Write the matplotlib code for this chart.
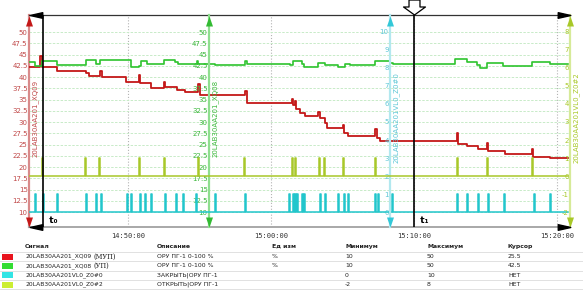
import matplotlib
matplotlib.use("Agg")
import matplotlib.pyplot as plt
from matplotlib.lines import Line2D
from matplotlib.patches import Rectangle
from matplotlib.path import Path

plt.rcParams['font.family'] = 'DejaVu Sans'
plt.rcParams['axes.unicode_minus'] = False

# time axis: minutes after 14:50:00
x_min, x_max = -6.92, 30.91
time_ticks = [0, 10, 20, 30]

# 20LAB30AA201_XQ09 (red, scale 10..50)
red_t = [-6.92, -6.12, -6.01, -4.94, -2.96, -2.73, -1.96, -1.85, -0.16, 0.77, 0.87, 1.59,
         2.52, 2.62, 3.41, 3.99, 4.92, 5.02, 8.18, 8.29, 11.45, 11.52, 11.68, 11.78, 12.03,
         12.38, 13.31, 13.43, 13.78, 13.92, 15.06, 15.14, 15.41, 17.27, 17.38, 17.62, 22.99,
         23.08, 23.69, 24.50, 25.08, 25.17, 26.36, 28.23, 28.32, 29.51, 30.77]
red_v = [42.3, 44.6, 42.2, 41.4, 40.8, 40.2, 41.3, 40.1, 39.0, 40.4, 38.6, 37.6,
         39.0, 37.7, 37.1, 36.7, 38.4, 36.0, 36.9, 34.3, 35.2, 33.8, 34.6, 32.8, 32.0,
         31.3, 32.3, 30.8, 29.7, 28.6, 29.4, 27.5, 26.8, 28.5, 26.4, 25.8, 27.6,
         25.1, 24.7, 24.1, 25.4, 23.6, 23.0, 24.1, 22.3, 21.9, 21.9]

# 20LAB30AA201_XQ08 (green, scale 10..50)
green_t = [-6.92, -6.50, -6.01, -4.97, -2.94, -2.26, -1.98, 0.19, 0.77, 0.91, 1.35, 2.52,
           3.29, 3.52, 4.83, 4.93, 6.08, 8.18, 8.29, 11.33, 11.56, 12.15, 12.31, 13.31,
           13.78, 14.71, 15.17, 15.52, 17.27, 18.32, 18.55, 22.87, 23.69, 24.39, 24.62,
           25.08, 26.25, 28.23, 29.51, 30.77]
green_v = [43.3, 42.5, 43.5, 42.6, 43.8, 43.0, 43.8, 42.2, 42.5, 43.6, 42.8, 43.7,
           43.4, 42.9, 43.6, 43.0, 42.7, 43.6, 43.0, 42.6, 43.5, 43.0, 42.2, 43.1,
           42.7, 42.2, 43.0, 42.7, 43.6, 43.2, 42.8, 43.9, 43.4, 42.7, 41.9,
           43.2, 42.4, 43.4, 42.9, 42.9]

# discrete signals: moments when the signal went to 1
cyan_pulses = [-6.50, -5.97, -4.94, -2.94, -2.24, -1.89, -0.09, 0.21, 0.84, 1.19, 1.61, 2.59,
               3.36, 3.87, 4.76, 6.08, 8.18, 11.28, 11.52, 11.68, 11.84, 12.15, 12.33, 13.43,
               13.78, 14.71, 15.13, 15.41, 17.27, 17.46, 18.48, 23.03, 23.73, 24.45, 25.15,
               26.31, 28.39, 29.51]
yellow_pulses = [-6.03, -3.01, -2.01, 0.79, 2.54, 4.92, 8.11, 11.45, 11.68, 13.38, 13.73,
                 15.06, 17.27, 22.99, 25.08, 28.27]

cursor_t0 = -5.94
cursor_t1 = 20.0

# legend table
sig_names = ["20LAB30AA201_XQ09", "20LAB30AA201_XQ08", "20LAB30AA201VL0_Z0#0", "20LAB30AA201VL0_Z0#2"]
sig_notes = ["(МУП)", "(УП)", "", ""]
sig_desc = ["ОРУ ПГ-1 0-100 %", "ОРУ ПГ-1 0-100 %", "ЗАКРЫТЬ|ОРУ ПГ-1", "ОТКРЫТЬ|ОРУ ПГ-1"]
sig_units = ["%", "%", "", ""]
sig_min = ["10", "10", "0", "-2"]
sig_max = ["50", "50", "10", "8"]
sig_cursor = ["25.5", "42.5", "НЕТ", "НЕТ"]
swatch_colors = ["#e8141e", "#33dd33", "#33e5e5", "#ccee33"]


def pulse_series(times, t0, t1, width=0.08):
    t, v = [t0], [0]
    for p in times:
        t += [p, p + width]
        v += [1, 0]
    t.append(t1)
    v.append(0)
    return t, v


def clock(m):
    tot = 14 * 60 + 50 + m
    return "%02d:%02d:00" % (int(tot // 60), int(tot % 60))


W, H = 583, 292
fig = plt.figure(figsize=(W / 100, H / 100), dpi=100)
L, R, T, B = 29, 570, 15, 227
ax = fig.add_axes([L / W, 1 - B / H, (R - L) / W, (B - T) / H])
ax.set_xlim(x_min, x_max)
ax.set_ylim(6.67, 53.78)

# frame
ax.spines['right'].set_visible(False)
ax.spines['top'].set_color('#333333')
ax.spines['top'].set_linewidth(0.9)
ax.spines['bottom'].set_color('#a8a8a8')
ax.spines['bottom'].set_linewidth(1.4)
ax.spines['left'].set_color('#d88a8a')
ax.spines['left'].set_linewidth(1.6)

grid_ticks = [10 + 2.5 * i for i in range(17)]
ax.set_yticks(grid_ticks)
ax.set_yticklabels(["%g" % v for v in grid_ticks])
ax.tick_params(axis='y', length=0, pad=1, labelsize=5, labelcolor='#c04848')
ax.grid(axis='y', color='#c8ebc8', ls=(0, (2.5, 1.5)), lw=0.7)
ax.set_xticks(time_ticks)
ax.set_xticklabels([clock(m) for m in time_ticks], family='DejaVu Sans Mono', fontsize=5, color='#333333')
ax.tick_params(axis='x', length=0, pad=4)
ax.grid(axis='x', color='#b4b4b4', ls=':', lw=0.8)


def make_axis(pos, ylim, ticks, label_color, spine_color):
    a = ax.twinx()
    a.set_ylim(*ylim)
    for s in ('right', 'top', 'bottom'):
        a.spines[s].set_visible(False)
    a.spines['left'].set_visible(True)
    a.spines['left'].set_position(('axes', pos))
    a.spines['left'].set_color(spine_color)
    a.spines['left'].set_linewidth(1.6)
    a.yaxis.set_ticks_position('left')
    a.set_yticks(ticks)
    a.set_yticklabels(["%g" % v for v in ticks])
    a.tick_params(axis='y', length=0, pad=1, labelsize=5, labelcolor=label_color)
    return a


ax_g = make_axis(180 / 541, (6.67, 53.78), grid_ticks, '#3cb83c', '#8ede8e')
ax_c = make_axis(361 / 541, (-0.833, 10.944), list(range(0, 11)), '#5cc6d6', '#b2e8ef')
ax_y = make_axis(1.0, (-2.833, 8.944), list(range(-2, 9)), '#a8c828', '#d6ea98')

# series
ax.plot(red_t, red_v, drawstyle='steps-post', color='#c41818', lw=1.3, zorder=5)
ax_g.plot(green_t, green_v, drawstyle='steps-post', color='#2ec42e', lw=1.2)
ct, cv = pulse_series(cyan_pulses, red_t[0], red_t[-1])
ax_c.plot(ct, cv, drawstyle='steps-post', color='#22c6cc', lw=1.1)
yt, yv = pulse_series(yellow_pulses, red_t[0], red_t[-1])
ax_y.plot(yt, yv, drawstyle='steps-post', color='#a8c82a', lw=1.1)

# axis arrows and labels
up_arrow = Path([(0, 1), (-0.7, -1), (0.7, -1), (0, 1)], [1, 2, 2, 79])
down_arrow = Path([(0, -1), (-0.7, 1), (0.7, 1), (0, -1)], [1, 2, 2, 79])
axis_specs = [(0.0, '#c41818', "20LAB30AA201_XQ09", '#c04848'),
              (180 / 541, '#33bb33', "20LAB30AA201_XQ08", '#3cb83c'),
              (361 / 541, '#33c8d8', "20LAB30AA201VL0_Z0#0", '#5cc6d6'),
              (1.0, '#a8c828', "20LAB30AA201VL0_Z0#2", '#a8c828')]
top = ax_y
for pos, col, name, lcol in axis_specs:
    top.plot([pos], [1 - 5.5 / 212], marker=up_arrow, ms=7.2, color=col, mec=col, mew=0,
             transform=ax.transAxes, clip_on=False, zorder=10)
    top.plot([pos], [5.5 / 212], marker=down_arrow, ms=7.2, color=col, mec=col, mew=0,
             transform=ax.transAxes, clip_on=False, zorder=10)
    top.text(pos + 6.5 / 541, 0.514, name, rotation=90, fontsize=5, color=lcol,
             ha='center', va='center', transform=ax.transAxes, clip_on=False)

# corner arrows
left_arrow = Path([(-1, 0), (1, 0.45), (1, -0.45), (-1, 0)], [1, 2, 2, 79])
right_arrow = Path([(1, 0), (-1, 0.45), (-1, -0.45), (1, 0)], [1, 2, 2, 79])
for yy in (1.0, 0.0):
    top.plot([6.5 / 541], [yy], marker=left_arrow, ms=9, color='black', transform=ax.transAxes,
             clip_on=False, zorder=11)
    top.plot([1 - 6 / 541], [yy], marker=right_arrow, ms=9, color='black', transform=ax.transAxes,
             clip_on=False, zorder=11)

# cursors
for t, lab in ((cursor_t0, "t₀"), (cursor_t1, "t₁")):
    top.axvline(t, color='black', lw=1.2, zorder=12)
    top.text(t, 0.01, "  " + lab, fontsize=6.5, fontweight='bold', ha='left', va='bottom',
             transform=top.get_xaxis_transform())
handle = Path([(-5.5, 7.5), (5.5, 7.5), (5.5, 0.5), (11, 0.5), (0, -7.5), (-11, 0.5),
               (-5.5, 0.5), (-5.5, 7.5)], [1, 2, 2, 2, 2, 2, 2, 79])
top.plot([cursor_t1], [1 + 7.5 / 212], marker=handle, ms=15.8, mfc='white', mec='black', mew=0.9,
         transform=top.get_xaxis_transform(), clip_on=False, zorder=13)


# table
def fx(x):
    return x / W


def fy(y):
    return 1 - y / H


col_x = [25, 157, 272, 345, 427, 508]
headers = ["Сигнал", "Описание", "Ед изм", "Минимум", "Максимум", "Курсор"]
for x, h in zip(col_x, headers):
    fig.text(fx(x), fy(246.5), h, fontsize=4.4, fontweight='bold', color='#222222', va='center')
row_y = [256.5, 265.8, 275.2, 284.5]
for y in [251.5, 261.2, 270.5, 279.9, 289.2]:
    fig.add_artist(Line2D([0, 1], [fy(y), fy(y)], color='#dcdcdc', lw=0.6, transform=fig.transFigure))
for i, y in enumerate(row_y):
    fig.add_artist(Rectangle((fx(2), fy(y + 3)), fx(10.5), 6 / H, facecolor=swatch_colors[i],
                             edgecolor='none', transform=fig.transFigure))
    fig.text(fx(25), fy(y), sig_names[i], fontsize=4.3, color='#222222', va='center')
    if sig_notes[i]:
        fig.text(fx(93), fy(y), sig_notes[i], fontsize=4.8, family='DejaVu Serif', color='#222222', va='center')
    vals = [sig_desc[i], sig_units[i], sig_min[i], sig_max[i], sig_cursor[i]]
    for x, v in zip(col_x[1:], vals):
        fig.text(fx(x), fy(y), v, fontsize=4.4, color='#222222', va='center')

fig.savefig("out.png", dpi=100)
